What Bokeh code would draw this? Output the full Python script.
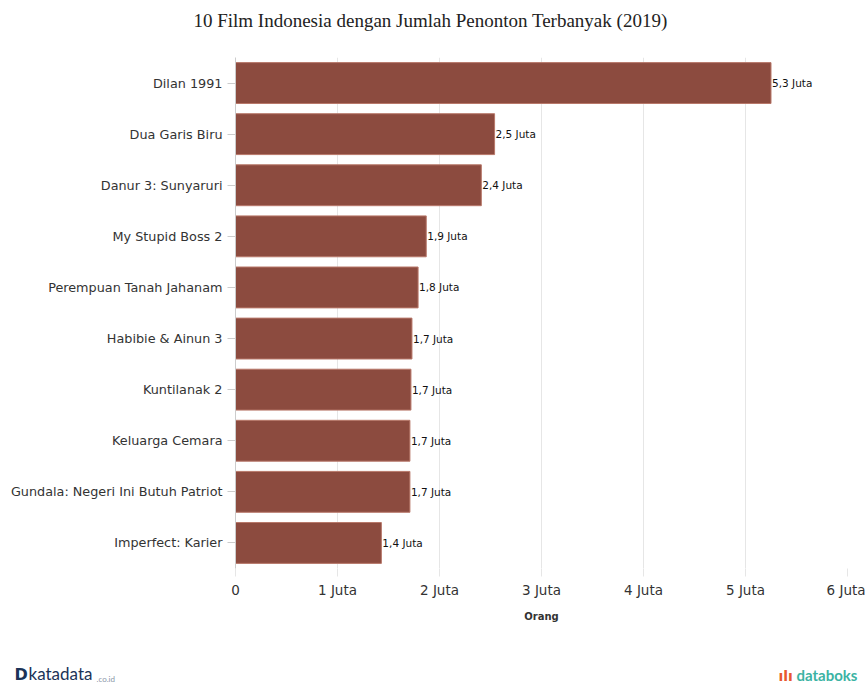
from bokeh.plotting import figure
from bokeh.models import FixedTicker, ColumnDataSource, Range1d, FactorRange
from bokeh.layouts import column, row
from bokeh.core.properties import value
from bokeh.embed import file_html
from bokeh.resources import INLINE

# ---- data ----
films = ["Dilan 1991", "Dua Garis Biru", "Danur 3: Sunyaruri", "My Stupid Boss 2",
         "Perempuan Tanah Jahanam", "Habibie & Ainun 3", "Kuntilanak 2",
         "Keluarga Cemara", "Gundala: Negeri Ini Butuh Patriot", "Imperfect: Karier"]
viewers = [5.25, 2.54, 2.41, 1.87, 1.79, 1.73, 1.72, 1.71, 1.71, 1.43]  # juta
value_labels = ["5,3 Juta", "2,5 Juta", "2,4 Juta", "1,9 Juta", "1,8 Juta",
                "1,7 Juta", "1,7 Juta", "1,7 Juta", "1,7 Juta", "1,4 Juta"]
tick_values = [0, 1, 2, 3, 4, 5, 6]
tick_labels = ["0", "1 Juta", "2 Juta", "3 Juta", "4 Juta", "5 Juta", "6 Juta"]
title_text = "10 Film Indonesia dengan Jumlah Penonton Terbanyak (2019)"
x_title = "Orang"

W = 865
HEAD_H, MAIN_H, FOOT_H = 40, 600, 44
L, R, T, B = 235, 18, 17, 72
XMAX = 6


def blank(h):
    f = figure(width=W, height=h, output_backend="svg", toolbar_location=None,
               x_range=Range1d(0, W), y_range=Range1d(h, 0),
               min_border=0, min_border_left=0, min_border_right=0,
               min_border_top=0, min_border_bottom=0,
               x_axis_location=None, y_axis_location=None)
    f.outline_line_color = None
    f.xgrid.visible = False
    f.ygrid.visible = False
    return f


# header
head = blank(HEAD_H)
head.text(x=[430], y=[20], text=[title_text], text_align="center", text_baseline="middle",
          text_font=value("Liberation Serif"), text_font_size="19px", text_color="#222222")

# main chart
src = ColumnDataSource(dict(film=films, v=viewers, lab=value_labels))
p = figure(width=W, height=MAIN_H, output_backend="svg", toolbar_location=None,
           x_range=Range1d(0, XMAX), y_range=FactorRange(factors=films[::-1]),
           min_border_left=L, min_border_right=R, min_border_top=T, min_border_bottom=B)
p.outline_line_color = None

p.hbar(y="film", right="v", left=0, height=0.8, source=src,
       fill_color="#8c4b3f", line_color="#b8786a", line_width=1)

p.text(x="v", y="film", text="lab", source=src, x_offset=1,
       text_baseline="middle", text_align="left", text_font_size="10.5px",
       text_font=value("DejaVu Sans"), text_color="#111111")

p.xaxis.ticker = FixedTicker(ticks=tick_values)
p.xaxis.major_label_overrides = {v: s for v, s in zip(tick_values, tick_labels)}
p.xaxis.axis_line_color = None
p.xaxis.major_tick_line_color = "#e6e6e6"
p.xaxis.major_tick_in = 0
p.xaxis.major_tick_out = 8
p.xaxis.minor_tick_line_color = None
p.xaxis.major_label_text_font = "DejaVu Sans"
p.xaxis.major_label_text_font_size = "13.5px"
p.xaxis.major_label_text_color = "#333333"
p.xaxis.major_label_standoff = 5
p.xaxis.axis_label = x_title
p.xaxis.axis_label_text_font = "DejaVu Sans"
p.xaxis.axis_label_text_font_size = "10px"
p.xaxis.axis_label_text_font_style = "bold"
p.xaxis.axis_label_text_color = "#333333"
p.xaxis.axis_label_standoff = 10

p.yaxis.axis_line_color = "#cccccc"
p.yaxis.major_tick_line_color = "#cccccc"
p.yaxis.major_tick_in = 0
p.yaxis.major_tick_out = 8
p.yaxis.minor_tick_line_color = None
p.yaxis.major_label_text_font = "DejaVu Sans"
p.yaxis.major_label_text_font_size = "12.8px"
p.yaxis.major_label_text_color = "#333333"
p.yaxis.major_label_standoff = 5

p.ygrid.grid_line_color = None
p.xgrid.grid_line_color = "#e6e6e6"

# footer with logos
foot = blank(FOOT_H)
foot.text(x=[14], y=[43.5], text=["D"], text_align="left", text_baseline="bottom",
          text_font=value("DejaVu Sans"), text_font_style="bold", text_font_size="16px",
          text_color="#1b3358")
foot.text(x=[28], y=[43.5], text=["katadata"], text_align="left", text_baseline="bottom",
          text_font=value("Lato"), text_font_size="17px", text_color="#1b3358")
foot.text(x=[96], y=[43.5], text=[".co.id"], text_align="left", text_baseline="bottom",
          text_font=value("Lato"), text_font_size="8px", text_color="#8a96a8")
foot.text(x=[778], y=[43.5], text=["ılı"], text_align="left", text_baseline="bottom",
          text_font=value("DejaVu Sans"), text_font_style="bold", text_font_size="14px",
          text_color="#e8582f")
foot.text(x=[796], y=[43.5], text=["databoks"], text_align="left", text_baseline="bottom",
          text_font=value("Lato"), text_font_style="bold", text_font_size="15px",
          text_color="#3bb3a3")

layout = column(row(head, spacing=0), p, row(foot, spacing=0), spacing=0)
open("out.html", "w").write(file_html(layout, INLINE))
